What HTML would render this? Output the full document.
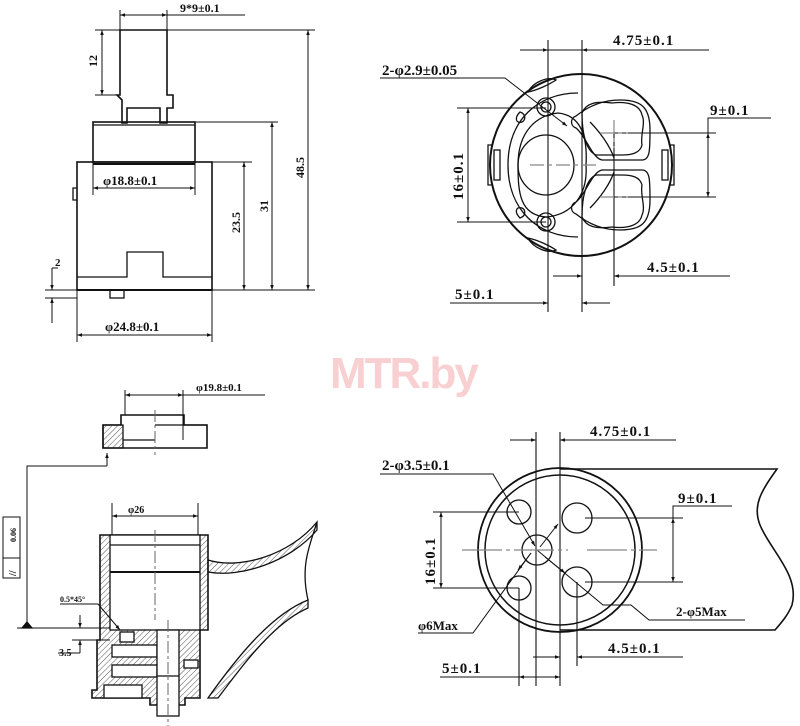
<!DOCTYPE html>
<html><head><meta charset="utf-8"><style>
html,body{margin:0;padding:0;background:#fff}
svg{display:block}
text{font-family:"Liberation Serif",serif;font-weight:bold;fill:#111}
</style></head><body>
<svg width="800" height="726" viewBox="0 0 800 726" xmlns="http://www.w3.org/2000/svg">
<defs>
<pattern id="h" width="4" height="4" patternUnits="userSpaceOnUse" patternTransform="rotate(45)"><line x1="0" y1="0" x2="0" y2="4" stroke="#555" stroke-width="1"/></pattern>
<marker id="a" viewBox="0 0 10 10" refX="10" refY="5" markerWidth="7" markerHeight="5" orient="auto-start-reverse"><path d="M0,1.5L10,5L0,8.5z" fill="#111"/></marker>
</defs>
<g stroke="#111" fill="none" stroke-width="1.3">
<!-- ===== Top-left side view ===== -->
<path d="M120,30H167V95H173V108H167V123H160V108H127V123H122V100L117,95H120Z" stroke-width="1.6"/>
<rect x="93" y="122" width="102" height="40" stroke-width="1.6"/>
<line x1="93" y1="125" x2="195" y2="125"/>
<rect x="77" y="162" width="135" height="128" stroke-width="1.6"/>
<line x1="93" y1="164" x2="195" y2="164" stroke-width="2"/>
<path d="M77,188h-4v12h4"/>
<path d="M77,277H127V252H163V277H212"/>
<line x1="77" y1="290" x2="212" y2="290" stroke-width="2"/>
<rect x="110" y="290" width="14" height="8"/>
<line x1="120" y1="10" x2="120" y2="30" stroke-width="1"/>
<line x1="167" y1="10" x2="167" y2="30" stroke-width="1"/>
<line x1="120" y1="15" x2="167" y2="15" stroke-width="1" marker-start="url(#a)" marker-end="url(#a)"/>
<line x1="167" y1="15" x2="245" y2="15" stroke-width="1"/>
<line x1="95" y1="30" x2="315" y2="30" stroke-width="1"/>
<line x1="95" y1="95" x2="120" y2="95" stroke-width="1"/>
<line x1="102" y1="30" x2="102" y2="95" stroke-width="1" marker-start="url(#a)" marker-end="url(#a)"/>
<line x1="195" y1="122" x2="278" y2="122" stroke-width="1"/>
<line x1="212" y1="162" x2="252" y2="162" stroke-width="1"/>
<line x1="212" y1="290" x2="315" y2="290" stroke-width="1"/>
<line x1="308" y1="30" x2="308" y2="290" stroke-width="1" marker-start="url(#a)" marker-end="url(#a)"/>
<line x1="272" y1="122" x2="272" y2="290" stroke-width="1" marker-start="url(#a)" marker-end="url(#a)"/>
<line x1="244" y1="162" x2="244" y2="290" stroke-width="1" marker-start="url(#a)" marker-end="url(#a)"/>
<line x1="93" y1="162" x2="93" y2="195" stroke-width="1"/>
<line x1="195" y1="162" x2="195" y2="195" stroke-width="1"/>
<line x1="93" y1="188" x2="195" y2="188" stroke-width="1" marker-start="url(#a)" marker-end="url(#a)"/>
<line x1="77" y1="290" x2="77" y2="342" stroke-width="1"/>
<line x1="212" y1="290" x2="212" y2="342" stroke-width="1"/>
<line x1="77" y1="335" x2="212" y2="335" stroke-width="1" marker-start="url(#a)" marker-end="url(#a)"/>
<line x1="45" y1="290" x2="77" y2="290" stroke-width="1"/>
<line x1="45" y1="298" x2="77" y2="298" stroke-width="1"/>
<path d="M52,268v22M52,298v25" stroke-width="1"/>
<line x1="52" y1="282" x2="52" y2="290" stroke-width="1" marker-end="url(#a)"/>
<line x1="52" y1="308" x2="52" y2="298" stroke-width="1" marker-end="url(#a)"/>
<line x1="52" y1="268" x2="58" y2="268" stroke-width="1"/>

<!-- ===== Top-right face view ===== -->
<circle cx="581" cy="165" r="91" stroke-width="2"/>
<path d="M493,145h-5v40h5M669,145h5v40h-5" />
<rect x="494" y="150" width="6" height="30"/>
<rect x="662" y="150" width="6" height="30"/>
<ellipse cx="546" cy="165" rx="28" ry="30"/>
<path d="M518,165c0,-35 20,-50 40,-52c20,2 30,18 28,52c2,30 -14,50 -40,52c-26,-2 -28,-24 -28,-52z"/>
<path d="M508,165c0,-45 30,-72 70,-72M508,165c0,45 30,72 70,72"/>
<circle cx="546" cy="107" r="9"/><circle cx="546" cy="107" r="5"/>
<circle cx="546" cy="222" r="9"/><circle cx="546" cy="222" r="5"/>
<path d="M528,92c5,-10 20,-16 28,-12c-6,4 -18,10 -28,12zM520,112c-6,6 -4,12 2,10c4,-2 4,-8 -2,-10z"/>
<path d="M528,238c5,10 20,16 28,12c-6,-4 -18,-10 -28,-12zM520,218c-6,-6 -4,-12 2,-10c4,2 4,8 -2,10z"/>
<path d="M582,113c4,-10 14,-12 30,-10c16,-2 28,2 30,12c4,8 -2,20 0,30c-2,8 -10,10 -20,10h-26c-10,-4 -14,-22 -14,-42z"/>
<path d="M576,116c-6,2 -6,10 0,12c10,8 16,30 26,32h40c8,0 8,-10 8,-30c0,-24 -10,-30 -30,-30c-20,0 -34,8 -44,16z"/>
<path d="M582,217c4,10 14,12 30,10c16,2 28,-2 30,-12c4,-8 -2,-20 0,-30c-2,-8 -10,-10 -20,-10h-26c-10,4 -14,22 -14,42z"/>
<path d="M576,214c-6,-2 -6,-10 0,-12c10,-8 16,-30 26,-32h40c8,0 8,10 8,30c0,24 -10,30 -30,30c-20,0 -34,-8 -44,-16z"/>
<path d="M590,122c10,10 20,24 24,36M590,208c10,-10 20,-24 24,-36"/>
<line x1="548" y1="40" x2="548" y2="312" stroke-width="1.1"/>
<line x1="582" y1="40" x2="582" y2="312" stroke-width="1.1"/>
<line x1="614" y1="133" x2="614" y2="286" stroke-width="1.1"/>
<line x1="520" y1="50" x2="548" y2="50" stroke-width="1" marker-end="url(#a)"/>
<line x1="608" y1="50" x2="582" y2="50" stroke-width="1" marker-end="url(#a)"/>
<line x1="548" y1="50" x2="709" y2="50" stroke-width="1"/>
<line x1="457" y1="108" x2="546" y2="108" stroke-width="1"/>
<line x1="457" y1="222" x2="546" y2="222" stroke-width="1"/>
<line x1="468" y1="108" x2="468" y2="222" stroke-width="1" marker-start="url(#a)" marker-end="url(#a)"/>
<line x1="600" y1="133" x2="716" y2="133" stroke-width="1"/>
<line x1="600" y1="197" x2="716" y2="197" stroke-width="1"/>
<line x1="708" y1="133" x2="708" y2="197" stroke-width="1" marker-start="url(#a)" marker-end="url(#a)"/>
<path d="M708,133V118h63" stroke-width="1"/>
<path d="M380,78h125l62,48" stroke-width="1" marker-end="url(#a)"/>
<line x1="553" y1="276" x2="582" y2="276" stroke-width="1"/>
<line x1="565" y1="276" x2="582" y2="276" stroke-width="1" marker-end="url(#a)"/>
<line x1="640" y1="276" x2="614" y2="276" stroke-width="1" marker-end="url(#a)"/>
<line x1="614" y1="276" x2="730" y2="276" stroke-width="1"/>
<line x1="450" y1="303" x2="548" y2="303" stroke-width="1" marker-end="url(#a)"/>
<line x1="610" y1="303" x2="582" y2="303" stroke-width="1" marker-end="url(#a)"/>
</g>
<g stroke="#888" stroke-width="1.2" stroke-dasharray="14,4,4,4">
<line x1="530" y1="165" x2="598" y2="165"/>
<line x1="600" y1="133" x2="628" y2="133"/><line x1="614" y1="120" x2="614" y2="148"/>
<line x1="600" y1="197" x2="628" y2="197"/>
</g>

<!-- ===== Bottom-left section ===== -->
<g stroke="#111" fill="none" stroke-width="1.3">
<path d="M103,425h18v-10h63v10h23v23h-104z" stroke-width="1.6"/>
<path d="M103,425h20v23h-20z" fill="url(#h)"/>
<line x1="123" y1="440" x2="155" y2="440"/>
<line x1="155" y1="425" x2="207" y2="425"/>
<line x1="125" y1="390" x2="125" y2="415" stroke-width="1"/>
<line x1="183" y1="390" x2="183" y2="440" stroke-width="1"/>
<line x1="125" y1="395" x2="183" y2="395" stroke-width="1" marker-start="url(#a)" marker-end="url(#a)"/>
<line x1="183" y1="395" x2="265" y2="395" stroke-width="1"/>
<path d="M107,466V453" stroke-width="1" marker-end="url(#a)"/>
<path d="M107,466H27V628" stroke-width="1"/>
<rect x="3" y="517" width="17" height="61" stroke-width="1"/>
<line x1="3" y1="558" x2="20" y2="558" stroke-width="1"/>
<line x1="17" y1="628" x2="200" y2="628" stroke-width="1"/>
<path d="M22,628l5,-6l5,6z" fill="#111"/>
<!-- housing -->
<path d="M100,535H208V630H200V698H185V705H150V698H92V690H97V640H100Z" fill="url(#h)" stroke-width="1.6"/>
<rect x="110" y="535" width="90" height="95" fill="#fff"/>
<line x1="110" y1="572" x2="200" y2="572" stroke-width="2"/>
<line x1="110" y1="545" x2="200" y2="545"/>
<rect x="112" y="645" width="45" height="12" fill="#fff"/>
<rect x="112" y="665" width="45" height="12" fill="#fff"/>
<rect x="184" y="660" width="14" height="8" fill="#fff"/>
<rect x="104" y="685" width="38" height="13" fill="#fff"/>
<rect x="120" y="632" width="14" height="10" fill="#fff"/>
<rect x="157" y="630" width="22" height="86" fill="#fff"/>
<line x1="157" y1="676" x2="179" y2="676"/>
<!-- wing -->
<path d="M208,560C240,570 290,555 317,522L317,530C290,562 240,578 208,572Z" fill="url(#h)"/>
<path d="M317,522C310,545 300,565 308,600" />
<path d="M308,600C270,615 235,660 208,698L218,698C245,662 275,622 308,608Z" fill="url(#h)"/>
<line x1="112" y1="503" x2="112" y2="535" stroke-width="1"/>
<line x1="198" y1="503" x2="198" y2="535" stroke-width="1"/>
<line x1="112" y1="516" x2="198" y2="516" stroke-width="1" marker-start="url(#a)" marker-end="url(#a)"/>
<path d="M60,604h38l22,26" stroke-width="1" marker-end="url(#a)"/>
<line x1="72" y1="640" x2="110" y2="640" stroke-width="1"/>
<line x1="80" y1="615" x2="80" y2="628" stroke-width="1" marker-end="url(#a)"/>
<line x1="80" y1="653" x2="80" y2="640" stroke-width="1" marker-end="url(#a)"/>
<line x1="58" y1="653" x2="80" y2="653" stroke-width="1"/>
</g>
<g stroke="#666" stroke-width="1" stroke-dasharray="12,3,3,3">
<line x1="155" y1="410" x2="155" y2="455"/>
<line x1="155" y1="530" x2="155" y2="620"/>
<line x1="168" y1="620" x2="168" y2="726"/>
</g>

<!-- ===== Bottom-right face view ===== -->
<g stroke="#111" fill="none" stroke-width="1.3">
<circle cx="560" cy="550" r="82" stroke-width="1.8"/>
<circle cx="560" cy="550" r="75" stroke-width="1.5"/>
<path d="M560,469H777C762,490 752,505 760,525C770,550 800,575 792,605C788,615 782,622 775,630H560" stroke-width="1.6"/>
<circle cx="519" cy="512" r="12"/>
<circle cx="519" cy="588" r="12"/>
<circle cx="577" cy="518" r="15"/>
<circle cx="577" cy="582" r="15"/>
<circle cx="537" cy="550" r="15"/>
<line x1="536" y1="432" x2="536" y2="686" stroke-width="1.1"/>
<line x1="560" y1="432" x2="560" y2="686" stroke-width="1.1"/>
<line x1="577" y1="582" x2="577" y2="666" stroke-width="1.1"/>
<line x1="519" y1="588" x2="519" y2="686" stroke-width="1.1"/>
<line x1="510" y1="440" x2="536" y2="440" stroke-width="1" marker-end="url(#a)"/>
<line x1="585" y1="440" x2="560" y2="440" stroke-width="1" marker-end="url(#a)"/>
<line x1="560" y1="440" x2="676" y2="440" stroke-width="1"/>
<line x1="433" y1="512" x2="519" y2="512" stroke-width="1"/>
<line x1="433" y1="588" x2="519" y2="588" stroke-width="1"/>
<line x1="441" y1="512" x2="441" y2="588" stroke-width="1" marker-start="url(#a)" marker-end="url(#a)"/>
<line x1="585" y1="518" x2="683" y2="518" stroke-width="1"/>
<line x1="585" y1="582" x2="683" y2="582" stroke-width="1"/>
<line x1="673" y1="518" x2="673" y2="582" stroke-width="1" marker-start="url(#a)" marker-end="url(#a)"/>
<path d="M673,518V506h59" stroke-width="1"/>
<path d="M380,474h113l42,72" stroke-width="1" marker-end="url(#a)"/>
<path d="M418,633h55l58,-80" stroke-width="1"/>
<line x1="531" y1="553" x2="518" y2="570" stroke-width="1" marker-end="url(#a)"/>
<line x1="540" y1="547" x2="558" y2="524" stroke-width="1" marker-end="url(#a)"/>
<path d="M537,550l66,55h28l18,15h96" stroke-width="1"/>
<line x1="545" y1="557" x2="565" y2="573" stroke-width="1" marker-end="url(#a)"/>
<line x1="533" y1="657" x2="560" y2="657" stroke-width="1" marker-end="url(#a)"/>
<line x1="600" y1="657" x2="577" y2="657" stroke-width="1" marker-end="url(#a)"/>
<line x1="577" y1="657" x2="683" y2="657" stroke-width="1"/>
<line x1="440" y1="677" x2="519" y2="677" stroke-width="1"/>
<line x1="519" y1="677" x2="560" y2="677" stroke-width="1" marker-start="url(#a)" marker-end="url(#a)"/>
</g>
<g stroke="#888" stroke-width="1.3" stroke-dasharray="40,4,4,4">
<line x1="462" y1="550" x2="568" y2="550"/>
<line x1="587" y1="550" x2="657" y2="550"/>
</g>

<!-- ===== Texts ===== -->
<text x="180" y="12" font-size="12">9*9±0.1</text>
<text x="97" y="67" font-size="12" transform="rotate(-90 97 67)">12</text>
<text x="103" y="185" font-size="13">φ18.8±0.1</text>
<text x="240" y="233" font-size="12" transform="rotate(-90 240 233)">23.5</text>
<text x="268" y="212" font-size="12" transform="rotate(-90 268 212)">31</text>
<text x="304" y="178" font-size="12" transform="rotate(-90 304 178)">48.5</text>
<text x="55" y="266" font-size="11">2</text>
<text x="105" y="331" font-size="13">φ24.8±0.1</text>

<text x="613" y="45" font-size="15" letter-spacing="1">4.75±0.1</text>
<text x="382" y="75" font-size="15">2-φ2.9±0.05</text>
<text x="710" y="115" font-size="15" letter-spacing="1">9±0.1</text>
<text x="463" y="200" font-size="15" letter-spacing="1" transform="rotate(-90 463 200)">16±0.1</text>
<text x="647" y="272" font-size="15" letter-spacing="1">4.5±0.1</text>
<text x="455" y="299" font-size="15" letter-spacing="1">5±0.1</text>

<text x="196" y="391" font-size="11">φ19.8±0.1</text>
<text x="16" y="542" font-size="8" transform="rotate(-90 16 542)">0.06</text>
<text x="16" y="576" font-size="10" transform="rotate(-90 16 576)">//</text>
<text x="128" y="513" font-size="10">φ26</text>
<text x="60" y="602" font-size="8">0.5*45°</text>
<text x="59" y="656" font-size="10">3.5</text>

<text x="590" y="436" font-size="15" letter-spacing="1">4.75±0.1</text>
<text x="382" y="470" font-size="15">2-φ3.5±0.1</text>
<text x="678" y="503" font-size="15" letter-spacing="1">9±0.1</text>
<text x="435" y="585" font-size="15" letter-spacing="1" transform="rotate(-90 435 585)">16±0.1</text>
<text x="418" y="630" font-size="13">φ6Max</text>
<text x="676" y="616" font-size="13">2-φ5Max</text>
<text x="608" y="653" font-size="15" letter-spacing="1">4.5±0.1</text>
<text x="442" y="673" font-size="15" letter-spacing="1">5±0.1</text>

<text x="330" y="388" font-size="44" style="font-family:'Liberation Sans',sans-serif;fill:#f8d0d2" font-weight="bold" letter-spacing="-2">MTR.by</text>
</svg>
</body></html>
